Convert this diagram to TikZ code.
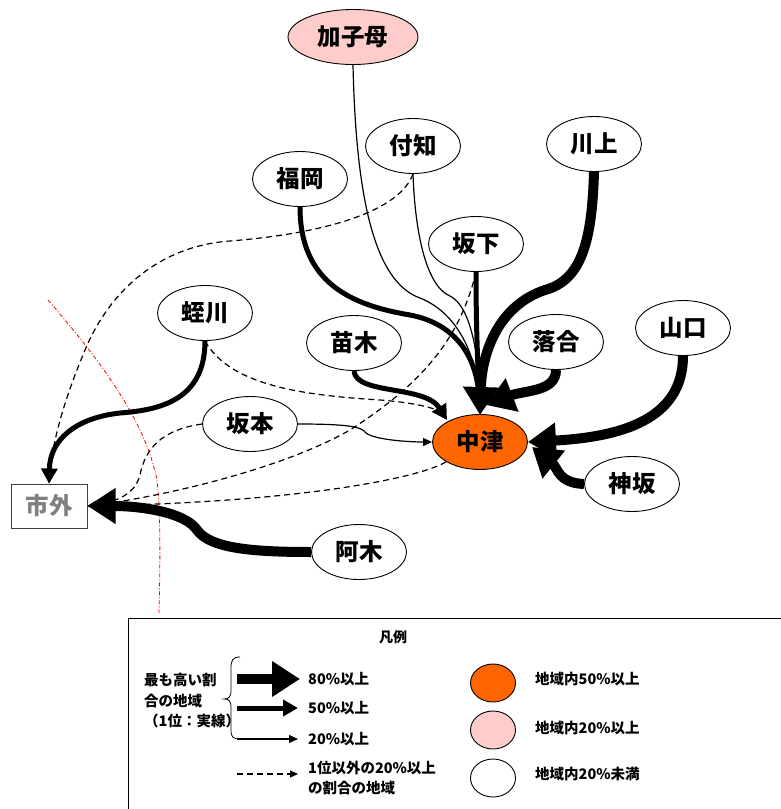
\documentclass[tikz,border=0pt]{standalone}
\usepackage{fontspec}
\setmainfont{Noto Sans CJK JP}
\usetikzlibrary{arrows.meta,shapes.geometric}
\definecolor{orng}{HTML}{FF6600}
\definecolor{pnk}{HTML}{FFCCCC}
\definecolor{dgray}{HTML}{404040}
\definecolor{mgray}{HTML}{808080}
\begin{document}
\begin{tikzpicture}[x=1pt,y=-1pt,
  place/.style={ellipse,draw,line width=0.9pt,minimum width=95pt,minimum height=55pt,inner sep=0pt,fill=white,font=\fontsize{23.5}{26}\selectfont\bfseries},
  w80/.style={line width=10pt,-{Triangle[length=28pt,width=34pt]}},
  w50/.style={line width=5pt,-{Triangle[length=15pt,width=16pt]}},
  w20/.style={line width=1.2pt,-{Triangle[length=9pt,width=8pt]}},
  dsh/.style={line width=1.2pt,dash pattern=on 6pt off 4pt,-{Triangle[length=8pt,width=7pt]}},
  lg/.style={font=\fontsize{14.5}{20.5}\selectfont\bfseries,inner sep=0pt,anchor=west,align=left},
  lgell/.style={ellipse,draw,line width=0.9pt,minimum width=45pt,minimum height=38pt,inner sep=0pt}]
\useasboundingbox (0,0) rectangle (781,809);

% red boundary
\draw[red,line width=0.8pt,dash pattern=on 4pt off 2pt on 1pt off 2pt]
  (48,300) .. controls (100,360) and (145,420) .. (157,480) .. controls (161,520) and (160,570) .. (159,613);

% nodes
\node[place,fill=pnk,minimum width=130pt] (kako) at (353,37) {加子母};
\node[place] (fuchi) at (413,146) {付知};
\node[place] (kawaue) at (594,144) {川上};
\node[place] (fukuoka) at (300,179) {福岡};
\node[place] (sakashita) at (476,244) {坂下};
\node[place] (hirukawa) at (205,313) {蛭川};
\node[place] (naegi) at (354,343) {苗木};
\node[place] (ochiai) at (556,342) {落合};
\node[place] (yamaguchi) at (683,328) {山口};
\node[place] (sakamoto) at (250,424) {坂本};
\node[place,fill=orng] (nakatsu) at (480,442) {中津};
\node[place] (misaka) at (632,484) {神坂};
\node[place] (agi) at (359,552) {阿木};
\node[draw=dgray,line width=1pt,minimum width=76pt,minimum height=44pt,inner sep=0pt,text=mgray,font=\fontsize{23.5}{26}\selectfont\bfseries] (shigai) at (49,506) {市外};

% connectors to Nakatsu
\draw[w20] (kako.south) .. controls (356,200) and (375,282) .. (420,298) .. controls (455,312) and (476,350) .. (480,408);
\draw[w20] (fuchi.south) .. controls (415,232) and (426,286) .. (450,296) .. controls (470,306) and (478,350) .. (481,408);
\draw[w50] (fukuoka.south) .. controls (300,282) and (350,305) .. (410,315) .. controls (452,323) and (476,352) .. (480,410);
\draw[dsh] (sakashita.south) .. controls (460,340) and (420,385) .. (350,430) .. controls (280,470) and (160,497) .. (shigai.east);
\draw[w50] (sakashita.south) .. controls (476,330) and (478,370) .. (480,410);
\draw[w80] (kawaue.south) .. controls (592,240) and (582,280) .. (545,290) .. controls (500,305) and (482,350) .. (480,415);
\draw[w80] (ochiai.south) .. controls (556,392) and (525,390) .. (486,405);
\draw[w50] (naegi.south) .. controls (356,395) and (425,385) .. (447,420);
\draw[w20] (sakamoto.east) .. controls (350,424) and (362,427) .. (366,433) .. controls (375,440) and (410,442) .. (nakatsu.west);
\draw[w80] (yamaguchi.south) .. controls (683,420) and (620,437) .. (nakatsu.east);
\draw[w80] (misaka.west) .. controls (558,483) and (558,468) .. (532,447);

% connectors to Shigai
\draw[w50] (hirukawa.south) .. controls (205,400) and (160,410) .. (120,413) .. controls (75,418) and (50,440) .. (shigai.north);
\draw[dsh] (hirukawa.south) .. controls (230,385) and (300,395) .. (380,400) .. controls (420,403) and (440,410) .. (446,419);
\draw[dsh] (sakamoto.west) .. controls (160,430) and (145,450) .. (140,475) .. controls (135,495) and (115,502) .. (shigai.east);
\draw[dsh] (nakatsu.south west) .. controls (420,478) and (300,502) .. (shigai.east);
\draw[dsh] (fuchi.south) .. controls (400,210) and (330,233) .. (230,241) .. controls (160,246) and (110,290) .. (85,350) .. controls (62,405) and (52,445) .. (shigai.north);
\draw[w80] (agi.west) .. controls (250,552) and (210,548) .. (197,530) .. controls (185,512) and (140,506) .. (shigai.east);

% legend
\draw[line width=1pt] (128,812) -- (128,618) -- (784,618);
\node[font=\fontsize{14}{16}\selectfont\bfseries,inner sep=0pt] (lgtitle) at (393,637) {凡例};
\node[lg] (lgleft) at (144,701) {最も高い割\\合の地域\\（1位：実線）};
\draw[line width=0.8pt] (240,657) .. controls (233,657) and (231,660) .. (231,668) -- (231,690) .. controls (231,697) and (229,699) .. (224,699) .. controls (229,699) and (231,701) .. (231,708) -- (231,730) .. controls (231,737) and (233,739) .. (240,739);
\coordinate (a1) at (237,679); \coordinate (b1) at (300,679);
\coordinate (a2) at (237,708); \coordinate (b2) at (298,708);
\coordinate (a3) at (237,739); \coordinate (b3) at (298,739);
\coordinate (a4) at (237,774); \coordinate (b4) at (298,774);
\draw[w80] (a1) -- (b1);
\draw[w50] (a2) -- (b2);
\draw[w20] (a3) -- (b3);
\draw[dsh] (a4) -- (b4);
\node[lg] (l1) at (308,679) {80\%以上};
\node[lg] (l2) at (308,708) {50\%以上};
\node[lg] (l3) at (308,739) {20\%以上};
\node[lg] (l4) at (308,778) {1位以外の20\%以上\\の割合の地域};
\node[lgell,fill=orng] (e1) at (493,683) {};
\node[lgell,fill=pnk] (e2) at (493,730) {};
\node[lgell,fill=white] (e3) at (493,778) {};
\node[lg] (m1) at (535,679) {地域内50\%以上};
\node[lg] (m2) at (535,728) {地域内20\%以上};
\node[lg] (m3) at (535,774) {地域内20\%未満};
\end{tikzpicture}
\end{document}
